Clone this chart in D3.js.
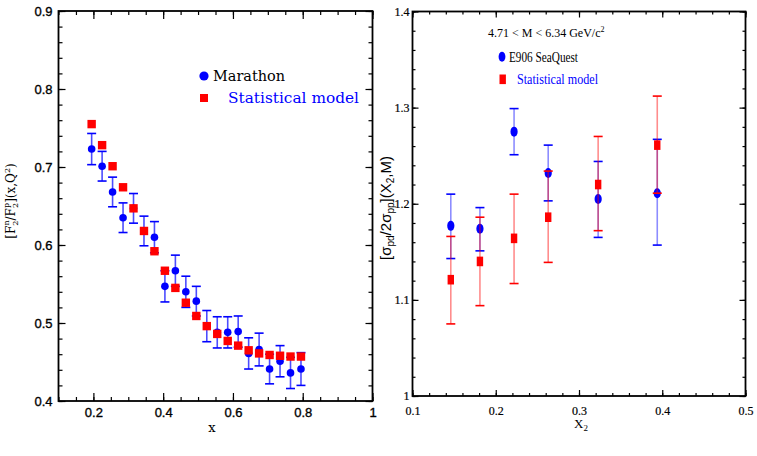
<!DOCTYPE html>
<html>
<head>
<meta charset="utf-8">
<script src="https://cdn.jsdelivr.net/npm/d3@7"></script>
<style>
  body { margin: 0; background: #fff; }
  svg { display: block; }
</style>
</head>
<body>
<svg id="chart" width="757" height="456"></svg>
<script>
// ---- left panel: Marathon F2n/F2p vs statistical model
var marathonX   = [0.195, 0.225, 0.255, 0.285, 0.315, 0.345, 0.375, 0.405, 0.435, 0.465, 0.495,
                   0.525, 0.555, 0.585, 0.615, 0.645, 0.675, 0.705, 0.735, 0.765, 0.795];
var marathonY   = [0.723, 0.701, 0.668, 0.635, 0.647, 0.618, 0.610, 0.547, 0.567, 0.540, 0.528,
                   0.496, 0.488, 0.488, 0.489, 0.461, 0.466, 0.441, 0.451, 0.436, 0.441];
var marathonErr = [0.020, 0.019, 0.019, 0.019, 0.019, 0.019, 0.020, 0.020, 0.020, 0.020, 0.019,
                   0.020, 0.020, 0.020, 0.020, 0.020, 0.021, 0.019, 0.020, 0.020, 0.021];
var statLeftY   = [0.755, 0.728, 0.701, 0.674, 0.647, 0.618, 0.592, 0.567, 0.545, 0.526, 0.509,
                   0.496, 0.486, 0.477, 0.471, 0.465, 0.461, 0.459, 0.458, 0.457, 0.457];
var leftXTicks = [0.2, 0.4, 0.6, 0.8, 1];
var leftYTicks = [0.4, 0.5, 0.6, 0.7, 0.8, 0.9];

// ---- right panel: SeaQuest sigma_pd/2sigma_pp vs statistical model
var seaquestX  = [0.146, 0.181, 0.222, 0.263, 0.323, 0.394];
var seaquestY  = [1.177, 1.174, 1.275, 1.232, 1.205, 1.211];
var seaquestLo = [1.143, 1.151, 1.251, 1.203, 1.165, 1.157];
var seaquestHi = [1.210, 1.196, 1.299, 1.261, 1.244, 1.267];
var statRightY  = [1.121, 1.140, 1.164, 1.186, 1.220, 1.261];
var statRightLo = [1.075, 1.094, 1.117, 1.139, 1.172, 1.211];
var statRightHi = [1.166, 1.186, 1.210, 1.234, 1.270, 1.312];
var rightXTicks = [0.1, 0.2, 0.3, 0.4, 0.5];
var rightYTicks = [1, 1.1, 1.2, 1.3, 1.4];

var svg = d3.select("#chart");
var BLUE = "#0000ff", RED = "#ff0000";

function fmt(d) { return d === 1 ? "1" : d.toFixed(1); }

// frame with inward ticks on all four sides
function frame(g, x, y, o) {
  var x0 = x.range()[0], x1 = x.range()[1], y0 = y.range()[0], y1 = y.range()[1];
  var xMinor = d3.range(x.domain()[0], x.domain()[1] + 1e-9, o.xMinor);
  var yMinor = d3.range(y.domain()[0], y.domain()[1] + 1e-9, o.yMinor);

  function ax(a, tr, vals, size, labels, pad) {
    var s = g.append("g").attr("transform", tr)
      .call(a.tickValues(vals).tickSize(-size).tickPadding(pad || 0)
        .tickFormat(labels ? fmt : ""));
    s.select(".domain").remove();
    s.selectAll("line").attr("stroke", "#000").attr("stroke-width", 1.2);
    return s;
  }
  ax(d3.axisBottom(x), "translate(0," + y0 + ")", xMinor, o.minor, false);
  ax(d3.axisTop(x), "translate(0," + y1 + ")", xMinor, o.minor, false);
  ax(d3.axisLeft(y), "translate(" + x0 + ",0)", yMinor, o.minor, false);
  ax(d3.axisRight(y), "translate(" + x1 + ",0)", yMinor, o.minor, false);
  var bx = ax(d3.axisBottom(x), "translate(0," + y0 + ")", o.xTicks, o.xMajor, true, o.xPad);
  ax(d3.axisTop(x), "translate(0," + y1 + ")", o.xTicks, o.xMajor, false);
  var ly = ax(d3.axisLeft(y), "translate(" + x0 + ",0)", o.yTicks, o.yMajor, true, o.yPad);
  ax(d3.axisRight(y), "translate(" + x1 + ",0)", o.yTicks, o.yMajor, false);
  [bx, ly].forEach(function(s) {
    s.selectAll("text").attr("font-family", o.font).attr("font-size", o.fontSize)
      .attr("fill", "#000").attr("stroke", "#000").attr("stroke-width", o.textStroke || 0);
  });

  g.append("rect")
    .attr("x", x0).attr("y", y1).attr("width", x1 - x0).attr("height", y0 - y1)
    .attr("fill", "none").attr("stroke", "#000").attr("stroke-width", 1.8);
}

// ================= LEFT =================
var xL = d3.scaleLinear().domain([0.1, 1]).range([58.5, 372.5]);
var yL = d3.scaleLinear().domain([0.4, 0.9]).range([401, 11]);
var gL = svg.append("g");

frame(gL, xL, yL, {
  xTicks: leftXTicks, yTicks: leftYTicks, xMinor: 0.05, yMinor: 0.02,
  xMajor: 8, yMajor: 7, minor: 4, xPad: 7, yPad: 6,
  font: "'Liberation Sans', Arial, sans-serif", fontSize: 13, textStroke: 0.35
});

var left = marathonX.map(function(x, i) {
  return { x: x, y: marathonY[i], e: marathonErr[i], s: statLeftY[i] };
});

var eb = gL.append("g").selectAll("g").data(left).enter().append("g");
eb.append("line")
  .attr("x1", function(d) { return xL(d.x); }).attr("x2", function(d) { return xL(d.x); })
  .attr("y1", function(d) { return yL(d.y - d.e); }).attr("y2", function(d) { return yL(d.y + d.e); })
  .attr("stroke", BLUE).attr("stroke-width", 1.6).attr("stroke-opacity", 0.7);
[-1, 1].forEach(function(k) {
  eb.append("line")
    .attr("x1", function(d) { return xL(d.x) - 4.5; }).attr("x2", function(d) { return xL(d.x) + 4.5; })
    .attr("y1", function(d) { return yL(d.y + k * d.e); }).attr("y2", function(d) { return yL(d.y + k * d.e); })
    .attr("stroke", BLUE).attr("stroke-width", 1.6);
});
gL.append("g").selectAll("circle").data(left).enter().append("circle")
  .attr("cx", function(d) { return xL(d.x); }).attr("cy", function(d) { return yL(d.y); })
  .attr("r", 3.8).attr("fill", BLUE);
gL.append("g").selectAll("rect").data(left).enter().append("rect")
  .attr("x", function(d) { return xL(d.x) - 4.2; }).attr("y", function(d) { return yL(d.s) - 4.2; })
  .attr("width", 8.4).attr("height", 8.4).attr("fill", RED);

// legend
gL.append("circle").attr("cx", 204).attr("cy", 76).attr("r", 4.6).attr("fill", BLUE);
gL.append("text").attr("x", 213).attr("y", 81)
  .attr("font-family", "'DejaVu Serif', serif").attr("font-size", 15)
  .attr("textLength", 72).attr("lengthAdjust", "spacingAndGlyphs")
  .text("Marathon");
gL.append("rect").attr("x", 200).attr("y", 94).attr("width", 8).attr("height", 8).attr("fill", RED);
gL.append("text").attr("x", 228).attr("y", 103).attr("fill", BLUE)
  .attr("font-family", "'DejaVu Serif', serif").attr("font-size", 15)
  .attr("textLength", 131).attr("lengthAdjust", "spacingAndGlyphs")
  .text("Statistical model");

// axis titles
gL.append("text").attr("x", 212).attr("y", 432).attr("text-anchor", "middle")
  .attr("font-family", "'DejaVu Serif', serif").attr("font-size", 13).text("x");

var yt = gL.append("text").attr("transform", "translate(15,201) rotate(-90)")
  .attr("text-anchor", "middle")
  .attr("font-family", "'DejaVu Serif', serif").attr("font-size", 12);
yt.append("tspan").text("[F");
yt.append("tspan").attr("font-size", 8).attr("dy", 3).text("2");
yt.append("tspan").attr("font-size", 8).attr("dx", -5).attr("dy", -9).text("n");
yt.append("tspan").attr("dy", 6).text("/F");
yt.append("tspan").attr("font-size", 8).attr("dy", 3).text("2");
yt.append("tspan").attr("font-size", 8).attr("dx", -5).attr("dy", -9).text("p");
yt.append("tspan").attr("dy", 6).text("](x,Q");
yt.append("tspan").attr("font-size", 8).attr("dy", -5).text("2");
yt.append("tspan").attr("dy", 5).text(")");

// ================= RIGHT =================
var xR = d3.scaleLinear().domain([0.1, 0.5]).range([412.5, 745.5]);
var yR = d3.scaleLinear().domain([1, 1.4]).range([396, 11.5]);
var gR = svg.append("g");

frame(gR, xR, yR, {
  xTicks: rightXTicks, yTicks: rightYTicks, xMinor: 0.02, yMinor: 0.02,
  xMajor: 6, yMajor: 6, minor: 3, xPad: 10, yPad: 3,
  font: "'Liberation Serif', 'Times New Roman', serif", fontSize: 12, textStroke: 0.2
});

var right = seaquestX.map(function(x, i) {
  return { x: x, y: seaquestY[i], lo: seaquestLo[i], hi: seaquestHi[i],
           s: statRightY[i], slo: statRightLo[i], shi: statRightHi[i] };
});

function bars(g, data, lo, hi, color) {
  var b = g.append("g").selectAll("g").data(data).enter().append("g");
  b.append("line")
    .attr("x1", function(d) { return xR(d.x); }).attr("x2", function(d) { return xR(d.x); })
    .attr("y1", function(d) { return yR(d[lo]); }).attr("y2", function(d) { return yR(d[hi]); })
    .attr("stroke", color).attr("stroke-width", 1.6).attr("stroke-opacity", 0.45);
  [lo, hi].forEach(function(k) {
    b.append("line")
      .attr("x1", function(d) { return xR(d.x) - 4.5; }).attr("x2", function(d) { return xR(d.x) + 4.5; })
      .attr("y1", function(d) { return yR(d[k]); }).attr("y2", function(d) { return yR(d[k]); })
      .attr("stroke", color).attr("stroke-width", 1.6);
  });
}
bars(gR, right, "lo", "hi", BLUE);
gR.append("g").selectAll("ellipse").data(right).enter().append("ellipse")
  .attr("cx", function(d) { return xR(d.x); }).attr("cy", function(d) { return yR(d.y); })
  .attr("rx", 3.6).attr("ry", 5).attr("fill", BLUE);
bars(gR, right, "slo", "shi", RED);
gR.append("g").selectAll("rect").data(right).enter().append("rect")
  .attr("x", function(d) { return xR(d.x) - 3.2; }).attr("y", function(d) { return yR(d.s) - 4.8; })
  .attr("width", 6.4).attr("height", 9.6).attr("fill", RED);

// legend
var lt = gR.append("text").attr("x", 488).attr("y", 37)
  .attr("font-family", "'Liberation Serif', serif").attr("font-size", 12);
lt.append("tspan").text("4.71 < M < 6.34 GeV/c");
lt.append("tspan").attr("font-size", 8).attr("dy", -5).text("2");
gR.append("ellipse").attr("cx", 502).attr("cy", 56.7).attr("rx", 3.4).attr("ry", 5).attr("fill", BLUE);
gR.append("text").attr("x", 509).attr("y", 61.5)
  .attr("font-family", "'Liberation Serif', serif").attr("font-size", 14)
  .attr("textLength", 69).attr("lengthAdjust", "spacingAndGlyphs")
  .text("E906 SeaQuest");
gR.append("rect").attr("x", 499.5).attr("y", 74.5).attr("width", 6.4).attr("height", 9.6).attr("fill", RED);
gR.append("text").attr("x", 517).attr("y", 84).attr("fill", BLUE)
  .attr("font-family", "'Liberation Serif', serif").attr("font-size", 14)
  .attr("textLength", 81).attr("lengthAdjust", "spacingAndGlyphs")
  .text("Statistical model");

// axis titles
var xt = gR.append("text").attr("x", 574).attr("y", 428)
  .attr("font-family", "'Liberation Serif', serif").attr("font-size", 13);
xt.append("tspan").text("X");
xt.append("tspan").attr("font-size", 9).attr("dy", 3).text("2");

var ry = gR.append("text").attr("transform", "translate(391,208) rotate(-90)")
  .attr("text-anchor", "middle")
  .attr("font-family", "'Liberation Sans', Arial, sans-serif").attr("font-size", 15);
ry.append("tspan").text("[σ");
ry.append("tspan").attr("font-size", 10).attr("dy", 3).text("pd");
ry.append("tspan").attr("dy", -3).text("/2σ");
ry.append("tspan").attr("font-size", 10).attr("dy", 3).text("pp");
ry.append("tspan").attr("dy", -3).text("](X");
ry.append("tspan").attr("font-size", 10).attr("dy", 3).text("2");
ry.append("tspan").attr("dy", -3).text(",M)");
</script>
</body>
</html>
